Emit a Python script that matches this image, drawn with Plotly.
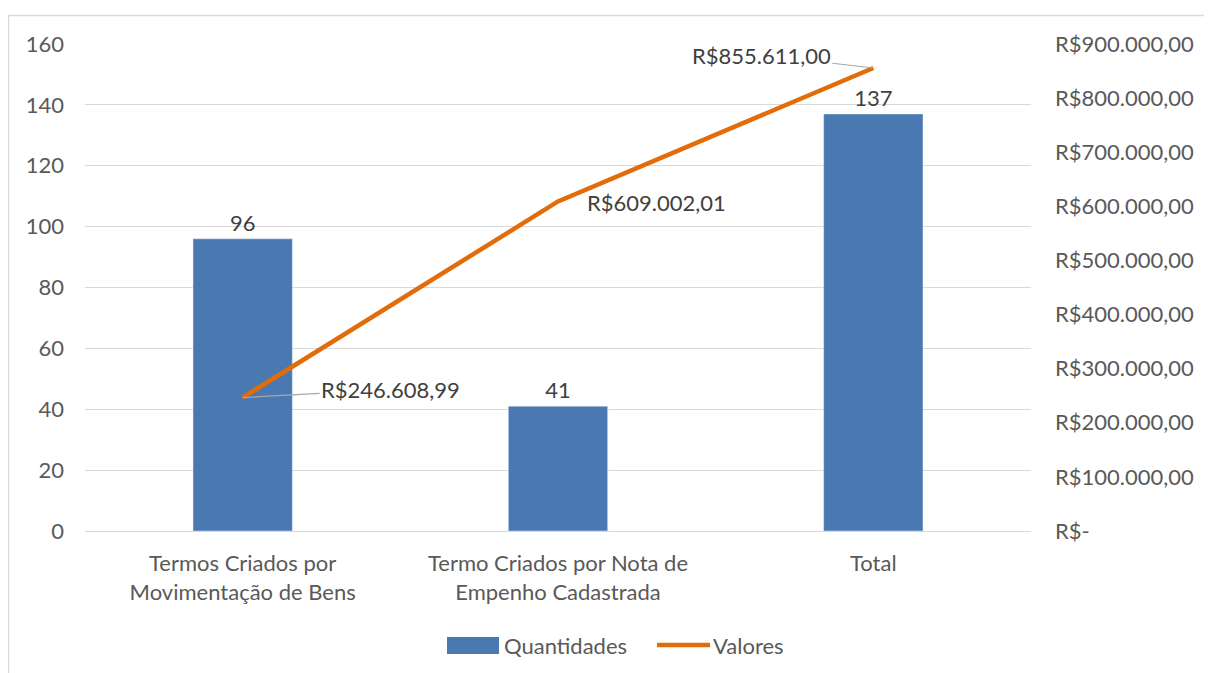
import plotly.graph_objects as go

categories = ["Termos Criados por<br>Movimentação de Bens",
              "Termo Criados por Nota de<br>Empenho Cadastrada",
              "Total"]
quantidades = [96, 41, 137]
valores = [246608.99, 609002.01, 855611.00]
valor_labels = ["R$246.608,99", "R$609.002,01", "R$855.611,00"]
series_names = ["Quantidades", "Valores"]

left_ticks = [0, 20, 40, 60, 80, 100, 120, 140, 160]
right_ticks = [0, 100000, 200000, 300000, 400000, 500000, 600000, 700000, 800000, 900000]
right_ticktext = ["R$-", "R$100.000,00", "R$200.000,00", "R$300.000,00", "R$400.000,00",
                  "R$500.000,00", "R$600.000,00", "R$700.000,00", "R$800.000,00", "R$900.000,00"]

FONT = "Lato"
FS = 22
TXT = "#595959"
BAR = "#4a78b0"
LINE = "#e36c0a"
GRID = "#d9d9d9"

# page has an 8px body margin; figure coords = page coords - 8
OFF = 8
W, H = 1204, 665
L, R, T, B = 85 - OFF, 1031 - OFF, 44 - OFF, 531 - OFF
PW, PH = R - L, B - T


def px(xp):
    return (xp - OFF - L) / PW


def py(yp):
    return (B - (yp - OFF)) / PH


fig = go.Figure()
fig.add_trace(go.Bar(
    x=categories, y=quantidades, name=series_names[0],
    marker=dict(color=BAR), width=0.315,
    text=[str(v) for v in quantidades], textposition="outside",
    textfont=dict(family=FONT, size=FS, color="#404040"), cliponaxis=False,
    showlegend=False,
))
fig.add_trace(go.Scatter(
    x=categories, y=valores, name=series_names[1], yaxis="y2", mode="lines",
    line=dict(color=LINE, width=4.5), showlegend=False,
))

# data labels for line with leader lines
offsets = [(148, -8, True), (98, 1, False), (-112, -13, True)]
for cat, v, lab, (ax, ay, arrow) in zip(categories, valores, valor_labels, offsets):
    fig.add_annotation(
        x=cat, y=v, xref="x", yref="y2", text=lab,
        showarrow=True, arrowhead=0, arrowwidth=1.2,
        arrowcolor="#a6a6a6" if arrow else "rgba(0,0,0,0)",
        ax=ax, ay=ay, standoff=0,
        font=dict(family=FONT, size=FS, color="#404040"),
    )

fig.update_layout(
    width=W, height=H,
    margin=dict(l=L, r=W - R, t=T, b=H - B, autoexpand=False),
    paper_bgcolor="white", plot_bgcolor="white",
    font=dict(family=FONT, size=FS, color=TXT),
    showlegend=False,
    xaxis=dict(showgrid=False, showline=False, ticks="", automargin=False,
               ticklabelstandoff=17,
               tickfont=dict(family=FONT, size=FS, color=TXT)),
    yaxis=dict(range=[0, 160], tickvals=left_ticks, showgrid=True, gridcolor=GRID, gridwidth=1,
               zeroline=True, zerolinecolor=GRID, zerolinewidth=1, automargin=False,
               ticklabelstandoff=20, tickfont=dict(family=FONT, size=FS, color=TXT)),
    yaxis2=dict(range=[0, 900000], overlaying="y", side="right", tickvals=right_ticks,
                ticktext=right_ticktext, showgrid=False, zeroline=False, automargin=False,
                ticklabelstandoff=23, tickfont=dict(family=FONT, size=FS, color=TXT)),
)

# chart border
fig.add_shape(type="rect", xref="paper", yref="paper",
              x0=px(8.5), x1=px(1240), y0=py(700), y1=py(15.5),
              line=dict(color=GRID, width=1.5), fillcolor="rgba(0,0,0,0)", layer="below")

# custom legend
fig.add_shape(type="rect", xref="paper", yref="paper",
              x0=px(447), x1=px(499), y0=py(654), y1=py(637),
              line=dict(width=0), fillcolor=BAR)
fig.add_annotation(xref="paper", yref="paper", x=px(502), y=py(645), text=series_names[0],
                   showarrow=False, xanchor="left", yanchor="middle",
                   font=dict(family=FONT, size=FS, color=TXT))
fig.add_shape(type="line", xref="paper", yref="paper",
              x0=px(657), x1=px(710), y0=py(645), y1=py(645),
              line=dict(color=LINE, width=4.5))
fig.add_annotation(xref="paper", yref="paper", x=px(711), y=py(645), text=series_names[1],
                   showarrow=False, xanchor="left", yanchor="middle",
                   font=dict(family=FONT, size=FS, color=TXT))

fig.write_html("out.html")
